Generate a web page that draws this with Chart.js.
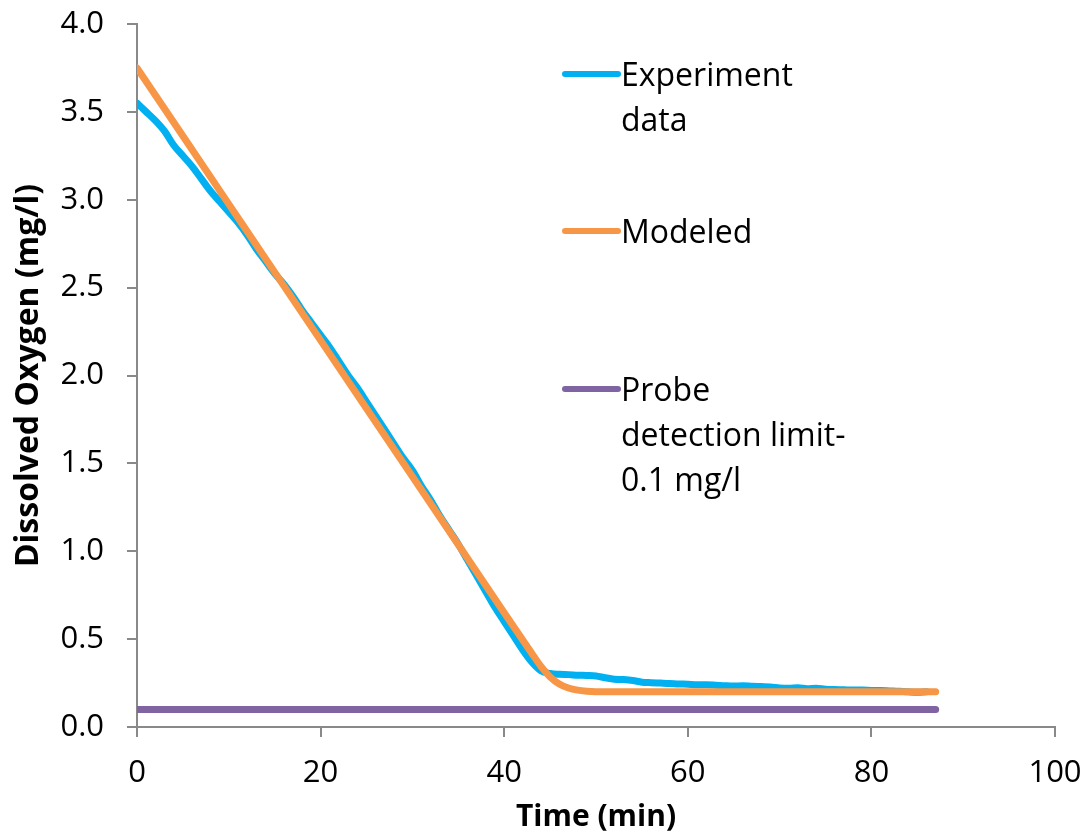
<!DOCTYPE html>
<html>
<head>
<meta charset="utf-8">
<script src="https://cdn.jsdelivr.net/npm/chart.js@4/dist/chart.umd.min.js"></script>
<style>
  html, body { margin: 0; padding: 0; background: #ffffff; }
  #wrap { width: 1088px; height: 833px; }
</style>
</head>
<body>
<div id="wrap"><canvas id="c" width="1088" height="833"></canvas></div>
<script>
// ---- data ----
const seriesLabels = ["Experiment\ndata", "Modeled", "Probe\ndetection limit-\n0.1 mg/l"];

const experimentTime = [0,1,2,3,4,5,6,7,8,9,10,11,12,13,14,15,16,17,18,19,20,21,22,23,24,25,26,27,28,29,30,31,32,33,34,35,36,37,38,39,40,41,42,43,44,45,46,47,48,49,50,51,52,53,54,55,56,57,58,59,60,61,62,63,64,65,66,67,68,69,70,71,72,73,74,75,76,77,78,79,80,81,82,83,84,85,86];
const experimentDO = [3.55,3.50,3.45,3.39,3.31,3.25,3.19,3.12,3.05,2.99,2.93,2.87,2.80,2.72,2.65,2.58,2.52,2.45,2.37,2.30,2.23,2.16,2.08,2.00,1.93,1.85,1.77,1.69,1.61,1.53,1.46,1.37,1.29,1.20,1.12,1.04,0.95,0.86,0.77,0.68,0.60,0.52,0.44,0.37,0.32,0.305,0.30,0.298,0.295,0.293,0.29,0.28,0.272,0.27,0.265,0.255,0.252,0.25,0.248,0.245,0.243,0.24,0.24,0.238,0.235,0.233,0.235,0.232,0.23,0.228,0.222,0.22,0.223,0.218,0.22,0.215,0.213,0.212,0.21,0.21,0.208,0.207,0.205,0.203,0.20,0.198,0.20];

const modeledTime = [0,10,20,30,40,43,44,45,46,47,48,49,50,52,60,70,80,87];
const modeledDO   = [3.75,2.975,2.20,1.425,0.65,0.42,0.345,0.285,0.245,0.222,0.21,0.204,0.201,0.20,0.20,0.20,0.20,0.20];

const limitTime = [0, 87];
const limitDO   = [0.1, 0.1];

const xTicks = [0, 20, 40, 60, 80, 100];
const yTicks = [0.0, 0.5, 1.0, 1.5, 2.0, 2.5, 3.0, 3.5, 4.0];

const colors = ["#00B0F0", "#F79646", "#8064A2"];
const FONT = "'Open Sans', Lato, sans-serif";

function pts(xs, ys) { return xs.map((x, i) => ({ x: x, y: ys[i] })); }

const legendPlugin = {
  id: 'sideLegend',
  afterDraw(chart) {
    const ctx = chart.ctx;
    const itemY = [77, 234, 392];
    const lineH = 45;
    ctx.save();
    ctx.font = "32px " + FONT;
    ctx.fillStyle = "#000000";
    ctx.textBaseline = "middle";
    ctx.textAlign = "left";
    chart.data.datasets.forEach((ds, i) => {
      const y = itemY[i];
      ctx.strokeStyle = ds.borderColor;
      ctx.lineWidth = 6;
      ctx.lineCap = "round";
      ctx.beginPath();
      ctx.moveTo(565, y - 3);
      ctx.lineTo(618, y - 3);
      ctx.stroke();
      const lines = ds.label.split("\n");
      lines.forEach((t, k) => ctx.fillText(t, 621, y + k * lineH));
    });
    ctx.restore();
  }
};

const ctx = document.getElementById('c').getContext('2d');
new Chart(ctx, {
  type: 'line',
  data: {
    datasets: [
      { label: seriesLabels[0], data: pts(experimentTime, experimentDO), borderColor: colors[0], backgroundColor: colors[0], borderWidth: 7, pointRadius: 0, cubicInterpolationMode: 'monotone', borderCapStyle: 'round', borderJoinStyle: 'round', order: 2 },
      { label: seriesLabels[1], data: pts(modeledTime, modeledDO), borderColor: colors[1], backgroundColor: colors[1], borderWidth: 7, pointRadius: 0, cubicInterpolationMode: 'monotone', borderCapStyle: 'round', borderJoinStyle: 'round', order: 1 },
      { label: seriesLabels[2], data: pts(limitTime, limitDO), borderColor: colors[2], backgroundColor: colors[2], borderWidth: 7, pointRadius: 0, borderCapStyle: 'round', order: 3 }
    ]
  },
  options: {
    responsive: false,
    animation: false,
    layout: { padding: { top: 24, right: 33, left: 0, bottom: 0 } },
    plugins: { legend: { display: false }, tooltip: { enabled: false } },
    scales: {
      x: {
        type: 'linear', min: 0, max: 100,
        afterBuildTicks: (s) => { s.ticks = xTicks.map(v => ({ value: v })); },
        afterFit: (s) => { s.height = 106; s.paddingLeft = 0; s.paddingRight = 0; },
        grid: { display: true, drawOnChartArea: false, drawTicks: true, tickLength: 10, color: '#898989', lineWidth: 2 },
        border: { display: true, color: '#898989', width: 2 },
        ticks: { color: '#000', font: { family: FONT, size: 31 }, padding: 18, maxRotation: 0, callback: (v) => String(v) },
        title: { display: true, text: 'Time (min)', color: '#000', font: { family: FONT, size: 30, weight: 'bold' }, padding: { top: 0, bottom: -2 } }
      },
      y: {
        type: 'linear', min: 0, max: 4,
        afterBuildTicks: (s) => { s.ticks = yTicks.map(v => ({ value: v })); },
        afterFit: (s) => { s.width = 137; s.paddingTop = 0; s.paddingBottom = 0; },
        grid: { display: true, drawOnChartArea: false, drawTicks: true, tickLength: 10, color: '#898989', lineWidth: 2 },
        border: { display: true, color: '#898989', width: 2 },
        ticks: { color: '#000', font: { family: FONT, size: 31 }, padding: 23, callback: (v) => Number(v).toFixed(1) },
        title: { display: true, text: 'Dissolved Oxygen (mg/l)', color: '#000', font: { family: FONT, size: 32, weight: 'bold' }, padding: { top: 10, bottom: 0 } }
      }
    }
  },
  plugins: [legendPlugin]
});
</script>
</body>
</html>
